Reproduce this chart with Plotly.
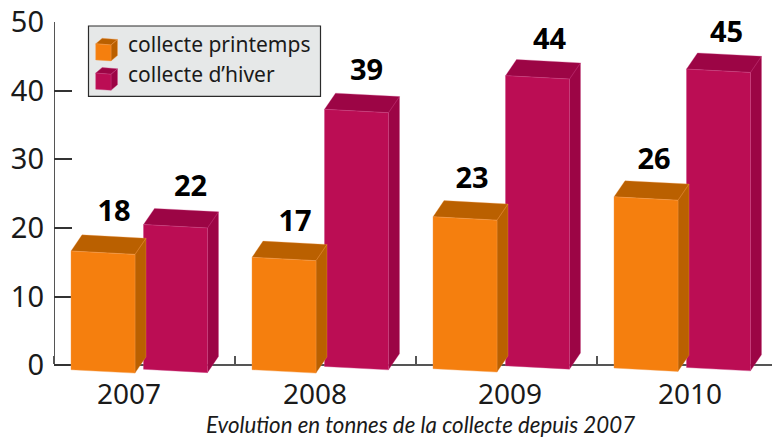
import plotly.graph_objects as go

# ---- data ----
years = ["2007", "2008", "2009", "2010"]
printemps_labels = [18, 17, 23, 26]
hiver_labels = [22, 39, 44, 45]
# drawn height of the front face (top-left corner), in axis units
printemps_tops = [16.64, 15.73, 21.63, 24.53]
hiver_tops = [20.49, 37.28, 42.18, 43.14]
# drawn foot of the front face (bottom-left corner), in axis units
printemps_feet = [-0.65, -0.65, -0.5, -0.4]
hiver_feet = [-0.58, -0.17, -0.07, -0.32]
y_ticks = [0, 10, 20, 30, 40, 50]
legend_names = ["collecte printemps", "collecte d’hiver"]
caption = "Evolution en tonnes de la collecte depuis 2007"

# ---- layout constants (pixels) ----
W, H = 772, 437
AX_L, AX_B, AX_T = 54, 365.5, 21.5
CAT = 181.0
UNIT = (AX_B - AX_T) / 50
Y_PAD = 2.0                      # axis units kept under zero so the bar feet are not clipped
PLOT_B = AX_B + Y_PAD * UNIT
BAR_W = 64 / CAT
DEPTH_X = 11 / CAT
DEPTH_Y = 16.2 / UNIT
SKEW = 3.4 / UNIT
ORANGE_OFF, CRIMSON_OFF = 17 / CAT, 89.5 / CAT
ORANGE, ORANGE_D, ORANGE_E = "#F57F0E", "#BA6000", "#F59A4A"
CRIM, CRIM_D, CRIM_E = "#BB0D54", "#9C0545", "#C94080"
TXT = "#1a1a1a"
AXC = "#555555"
FONT = "Noto Sans"
year_centers = [(129 - AX_L) / CAT, (315 - AX_L) / CAT, (510 - AX_L) / CAT, (690 - AX_L) / CAT]
p_label_dx = [11, 11, 7, 8]
h_label_dx = [15, 10, 12, 8]
p_label_dy = [23, 19, 22, 21]
h_label_dy = [21, 22, 20, 20]


def polys(tops, feet, off):
    fx, fy, dx, dy = [], [], [], []
    for i, (t, f) in enumerate(zip(tops, feet)):
        x0 = i + off
        x1 = x0 + BAR_W
        fx += [x0, x1, x1, x0, x0, None]
        fy += [t, t - SKEW, f - SKEW, f, t, None]
        # top face
        dx += [x0, x0 + DEPTH_X, x1 + DEPTH_X, x1, x0, None]
        dy += [t, t + DEPTH_Y, t - SKEW + DEPTH_Y, t - SKEW, t, None]
        # side face
        dx += [x1, x1 + DEPTH_X, x1 + DEPTH_X, x1, x1, None]
        dy += [t - SKEW, t - SKEW + DEPTH_Y, f - SKEW + DEPTH_Y, f - SKEW, t - SKEW, None]
    return fx, fy, dx, dy


def series(fig, name, tops, feet, off, c, cd, ce, labels, ldx, ldy):
    fx, fy, dx, dy = polys(tops, feet, off)
    common = dict(mode="lines", fill="toself", hoverinfo="skip", showlegend=False, cliponaxis=False)
    fig.add_trace(go.Scatter(x=dx, y=dy, fillcolor=cd, line=dict(color=ce, width=0.3), name=name + " (relief)", **common))
    fig.add_trace(go.Scatter(x=fx, y=fy, fillcolor=c, line=dict(color=ce, width=0.4), name=name, **common))
    fig.add_trace(go.Scatter(
        x=[i + off + BAR_W / 2 + d / CAT for i, d in enumerate(ldx)],
        y=[t + DEPTH_Y - SKEW / 2 + d / UNIT for t, d in zip(tops, ldy)],
        mode="text", text=[str(v) for v in labels], textposition="middle center",
        textfont=dict(family=FONT, size=29, color="#000000", weight="bold"),
        hoverinfo="skip", showlegend=False, cliponaxis=False, name=name + " valeurs",
    ))


fig = go.Figure()
series(fig, legend_names[1], hiver_tops, hiver_feet, CRIMSON_OFF, CRIM, CRIM_D, CRIM_E, hiver_labels, h_label_dx, h_label_dy)
series(fig, legend_names[0], printemps_tops, printemps_feet, ORANGE_OFF, ORANGE, ORANGE_D, ORANGE_E, printemps_labels, p_label_dx, p_label_dy)


def px(x):
    return (x - AX_L) / (W - AX_L)


def py(y):
    return (PLOT_B - y) / (PLOT_B - AX_T)


def path(pts):
    return "M " + " L ".join(f"{px(a):.4f},{py(b):.4f}" for a, b in pts) + " Z"


def cube(y0, c, cd, ce):
    l, r, t = 95.7, 111, y0
    tr, bl, br = t + 1.2, t + 16.2, t + 17.2
    ddx, ddy = 6.5, -5.5
    out = []
    for pts, col in [
        ([(l, t), (l + ddx, t + ddy), (r + ddx, tr + ddy), (r, tr)], cd),
        ([(r, tr), (r + ddx, tr + ddy), (r + ddx, br + ddy), (r, br)], cd),
        ([(l, t), (r, tr), (r, br), (l, bl)], c),
    ]:
        out.append(dict(type="path", xref="paper", yref="paper", path=path(pts),
                        fillcolor=col, line=dict(color=ce, width=0.4), layer="above"))
    return out


shapes = [dict(type="line", xref="x", yref="y", x0=0, x1=0, y0=0, y1=50,
               line=dict(color=AXC, width=2), layer="below"),
          dict(type="rect", xref="paper", yref="paper", x0=px(88.5), x1=px(320.5), y0=py(96), y1=py(25.5),
               fillcolor="#E6E8E8", line=dict(color="#2b2b2b", width=1.2), layer="above")]
shapes += cube(43.3, ORANGE, ORANGE_D, ORANGE_E)
shapes += cube(72.7, CRIM, CRIM_D, CRIM_E)

annotations = []
for name, yc in zip(legend_names, [44, 74]):
    annotations.append(dict(text=name, xref="paper", yref="paper", x=px(126), y=py(yc), xanchor="left", yanchor="middle",
                            showarrow=False, font=dict(family=FONT, size=21, color=TXT)))
annotations.append(dict(text=f"<i>{caption}</i>", xref="paper", yref="paper", x=px(420.5), y=py(425), xanchor="center",
                        yanchor="middle", showarrow=False, font=dict(family="Lato", size=22.3, color=TXT)))

fig.update_layout(
    width=W, height=H, autosize=False,
    margin=dict(l=AX_L, r=0, t=AX_T, b=H - PLOT_B, pad=0),
    paper_bgcolor="white", plot_bgcolor="white",
    shapes=shapes, annotations=annotations, showlegend=False,
    xaxis=dict(range=[0, (W - AX_L) / CAT], tickmode="array", tickvals=year_centers, ticktext=years,
               anchor="free", position=Y_PAD / (50 + Y_PAD),
               ticks="", tickfont=dict(family=FONT, size=28, color=TXT), ticklabelstandoff=4,
               showgrid=False, zeroline=False, showline=True, linecolor=AXC, linewidth=2, layer="below traces",
               minor=dict(tickmode="array", tickvals=[0, 1, 2, 3], ticks="inside", ticklen=8, tickcolor=AXC, tickwidth=1.5, showgrid=False)),
    yaxis=dict(range=[-Y_PAD, 50], tickmode="array", tickvals=y_ticks, ticks="inside", ticklen=18, tickwidth=1.5, tickcolor="#333333",
               tickfont=dict(family=FONT, size=29, color=TXT), ticklabelstandoff=9,
               showgrid=False, zeroline=False, showline=False, layer="below traces"),
)
fig.write_html("out.html", config=dict(displayModeBar=False),
               post_script="document.body.style.margin='0';document.body.style.overflow='hidden';")
